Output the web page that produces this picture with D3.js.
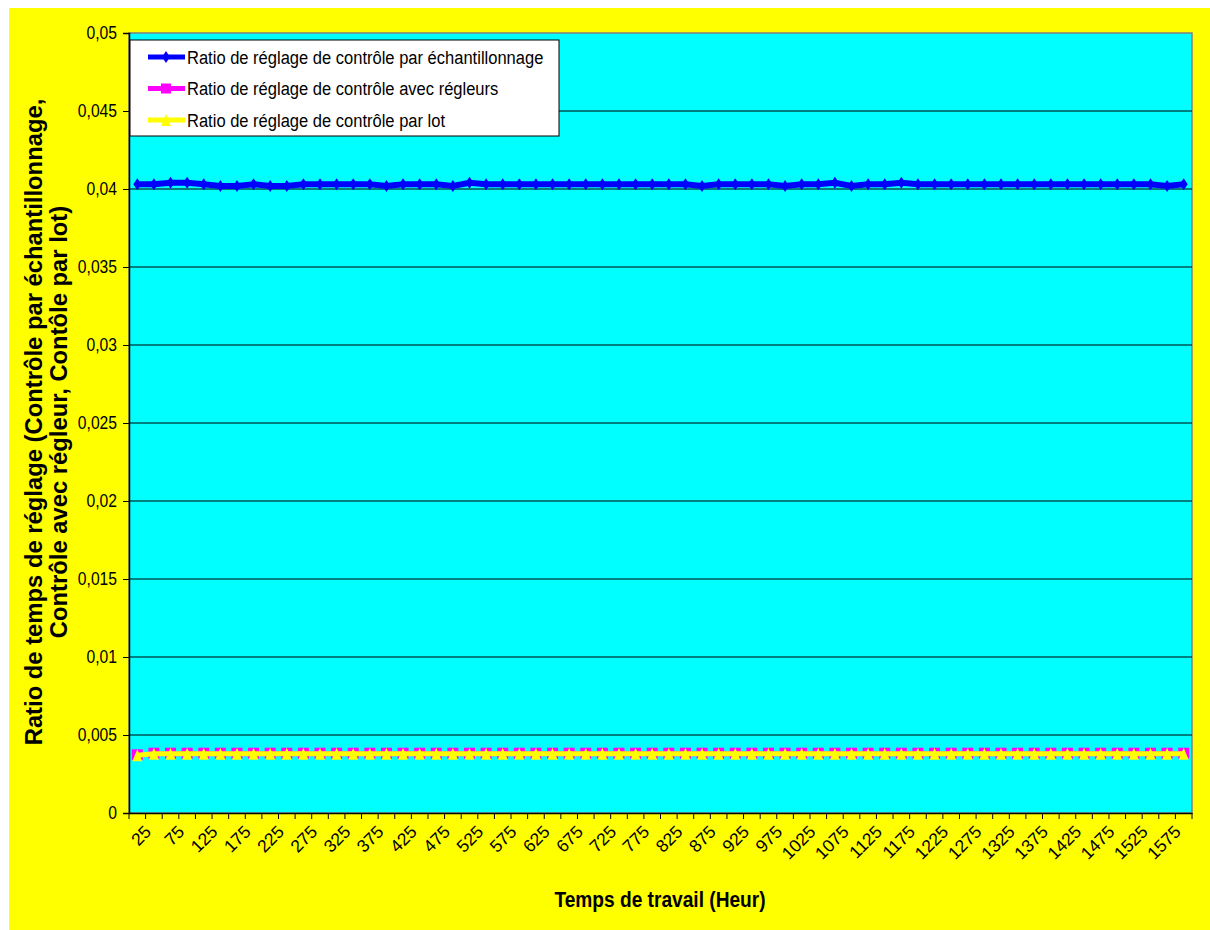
<!DOCTYPE html>
<html>
<head>
<meta charset="utf-8">
<script src="https://cdn.jsdelivr.net/npm/d3@7"></script>
<style>
body{margin:0;background:#fff;}
text{font-family:"Liberation Sans",Arial,sans-serif;}
</style>
</head>
<body>
<svg width="1210" height="930"></svg>
<script>
// heures de travail 25..1600
var hours = [25,50,75,100,125,150,175,200,225,250,275,300,325,350,375,400,
  425,450,475,500,525,550,575,600,625,650,675,700,725,750,775,800,
  825,850,875,900,925,950,975,1000,1025,1050,1075,1100,1125,1150,1175,1200,
  1225,1250,1275,1300,1325,1350,1375,1400,1425,1450,1475,1500,1525,1550,1575,1600];

var echantillonnage = [0.0403,0.0403,0.0404,0.0404,0.0403,0.0402,0.0402,0.0403,0.0402,0.0402,0.0403,0.0403,0.0403,0.0403,0.0403,0.0402,
  0.0403,0.0403,0.0403,0.0402,0.0404,0.0403,0.0403,0.0403,0.0403,0.0403,0.0403,0.0403,0.0403,0.0403,0.0403,0.0403,
  0.0403,0.0403,0.0402,0.0403,0.0403,0.0403,0.0403,0.0402,0.0403,0.0403,0.0404,0.0402,0.0403,0.0403,0.0404,0.0403,
  0.0403,0.0403,0.0403,0.0403,0.0403,0.0403,0.0403,0.0403,0.0403,0.0403,0.0403,0.0403,0.0403,0.0403,0.0402,0.0403];
var regleurs = [0.0037,0.0038,0.0038,0.0038,0.0038,0.0038,0.0038,0.0038,0.0038,0.0038,0.0038,0.0038,0.0038,0.0038,0.0038,0.0038,
  0.0038,0.0038,0.0038,0.0038,0.0038,0.0038,0.0038,0.0038,0.0038,0.0038,0.0038,0.0038,0.0038,0.0038,0.0038,0.0038,
  0.0038,0.0038,0.0038,0.0038,0.0038,0.0038,0.0038,0.0038,0.0038,0.0038,0.0038,0.0038,0.0038,0.0038,0.0038,0.0038,
  0.0038,0.0038,0.0038,0.0038,0.0038,0.0038,0.0038,0.0038,0.0038,0.0038,0.0038,0.0038,0.0038,0.0038,0.0038,0.0038];
var lot = [0.0037,0.0038,0.0038,0.0038,0.0038,0.0038,0.0038,0.0038,0.0038,0.0038,0.0038,0.0038,0.0038,0.0038,0.0038,0.0038,
  0.0038,0.0038,0.0038,0.0038,0.0038,0.0038,0.0038,0.0038,0.0038,0.0038,0.0038,0.0038,0.0038,0.0038,0.0038,0.0038,
  0.0038,0.0038,0.0038,0.0038,0.0038,0.0038,0.0038,0.0038,0.0038,0.0038,0.0038,0.0038,0.0038,0.0038,0.0038,0.0038,
  0.0038,0.0038,0.0038,0.0038,0.0038,0.0038,0.0038,0.0038,0.0038,0.0038,0.0038,0.0038,0.0038,0.0038,0.0038,0.0038];

var yTicks = [0,0.005,0.01,0.015,0.02,0.025,0.03,0.035,0.04,0.045,0.05];
var seriesNames = ["Ratio de réglage de contrôle par échantillonnage",
  "Ratio de réglage de contrôle avec régleurs",
  "Ratio de réglage de contrôle par lot"];

var svg = d3.select("svg");
var plot = {left:129,top:33,right:1192,bottom:813};
var sx = 0.87; // le texte d'origine est un peu étiré en hauteur

svg.append("rect").attr("x",9).attr("y",8).attr("width",1201).attr("height",922).attr("fill","#ffff00");
svg.append("rect").attr("x",plot.left).attr("y",plot.top)
  .attr("width",plot.right-plot.left).attr("height",plot.bottom-plot.top)
  .attr("fill","#00ffff").attr("stroke","#808080").attr("stroke-width",1.5);

var xScale = d3.scaleBand().domain(hours).range([plot.left,plot.right]);
var yScale = d3.scaleLinear().domain([0,0.05]).range([plot.bottom,plot.top]);
var fmt = function(d){return String(+d.toFixed(3)).replace(".",",");};

// grille
svg.append("g").selectAll("line").data(yTicks.slice(1,-1)).enter().append("line")
  .attr("x1",plot.left).attr("x2",plot.right)
  .attr("y1",function(d){return yScale(d);}).attr("y2",function(d){return yScale(d);})
  .attr("stroke","#000").attr("stroke-width",1);

// axe y
var yAxis = svg.append("g").attr("transform","translate("+plot.left+",0)")
  .call(d3.axisLeft(yScale).tickValues(yTicks).tickFormat(fmt).tickSize(6).tickPadding(6));
yAxis.selectAll("text").attr("font-size","18px").attr("fill","#000")
  .attr("x",-12/sx).attr("transform","scale("+sx+",1)")
  .style("font-family","Liberation Sans, Arial");
yAxis.selectAll("line,path").attr("stroke","#000");
yAxis.select("path").attr("stroke-width",1.5);

// axe x
var xAxis = svg.append("g").attr("transform","translate(0,"+plot.bottom+")")
  .call(d3.axisBottom(xScale).tickSize(0).tickFormat(""));
xAxis.select("path").attr("stroke","#000").attr("stroke-width",1.5);
var bounds = hours.map(function(h){return xScale(h);}).concat([plot.right]);
svg.append("g").selectAll("line").data(bounds).enter().append("line")
  .attr("x1",function(d){return d;}).attr("x2",function(d){return d;})
  .attr("y1",plot.bottom).attr("y2",plot.bottom+6).attr("stroke","#000");
svg.append("g").selectAll("text").data(hours.filter(function(h,i){return i%2==0;})).enter().append("text")
  .attr("transform",function(h){
    return "translate("+(xScale(h)+xScale.bandwidth()/2+6)+","+(plot.bottom+11)+") rotate(-45)";})
  .attr("text-anchor","end").attr("dy","0.72em").attr("font-size","17.5px").text(function(h){return h;});

// series
var cx = function(d,i){return xScale(hours[i])+xScale.bandwidth()/2;};
var line = d3.line().x(cx).y(function(d){return yScale(d);});

svg.append("path").attr("d",line(echantillonnage)).attr("fill","none").attr("stroke","#0000ff").attr("stroke-width",6);
svg.append("g").selectAll("path").data(echantillonnage).enter().append("path")
  .attr("d","M0,-6L4,0L0,6L-4,0Z").attr("fill","#0000ff")
  .attr("transform",function(d,i){return "translate("+cx(d,i)+","+yScale(d)+")";});

svg.append("path").attr("d",line(regleurs)).attr("fill","none").attr("stroke","#ff00ff").attr("stroke-width",5);
svg.append("g").selectAll("rect").data(regleurs).enter().append("rect")
  .attr("x",function(d,i){return cx(d,i)-5.5;}).attr("y",function(d){return yScale(d)-6;})
  .attr("width",11).attr("height",11).attr("fill","#ff00ff");

svg.append("path").attr("d",line(lot)).attr("fill","none").attr("stroke","#ffff00").attr("stroke-width",5);
svg.append("g").selectAll("path").data(lot).enter().append("path")
  .attr("d","M0,-6L5,6L-5,6Z").attr("fill","#ffff00")
  .attr("transform",function(d,i){return "translate("+cx(d,i)+","+yScale(d)+")";});

// légende
var legend = svg.append("g");
legend.append("rect").attr("x",130).attr("y",40).attr("width",429).attr("height",96)
  .attr("fill","#fff").attr("stroke","#000").attr("stroke-width",1);
var colors = ["#0000ff","#ff00ff","#ffff00"];
var entries = legend.selectAll("g.entry").data(seriesNames).enter().append("g")
  .attr("transform",function(d,i){return "translate(148,"+(57+i*31.5)+")";});
entries.append("line").attr("x1",0).attr("x2",37).attr("y1",0).attr("y2",0)
  .attr("stroke",function(d,i){return colors[i];}).attr("stroke-width",5);
entries.each(function(d,i){
  var g = d3.select(this);
  if(i==0) g.append("path").attr("d","M18,-6L22,0L18,6L14,0Z").attr("fill",colors[i]);
  if(i==1) g.append("rect").attr("x",13).attr("y",-5).attr("width",10).attr("height",10).attr("fill",colors[i]);
  if(i==2) g.append("path").attr("d","M18,-6L23,6L13,6Z").attr("fill",colors[i]);
});
entries.append("text").attr("transform","translate(39,0) scale("+sx+",1)")
  .attr("dy","0.35em").attr("font-size","19px").text(function(d){return d;});

// titres
svg.append("text").attr("transform","translate(660,907) scale("+sx+",1)").attr("text-anchor","middle")
  .attr("font-size","22px").attr("font-weight","bold").text("Temps de travail (Heur)");
var yt = svg.append("text").attr("transform","translate(0,422) rotate(-90)")
  .attr("text-anchor","middle").attr("font-size","23.8px").attr("font-weight","bold");
yt.append("tspan").attr("x",0).attr("y",42).text("Ratio de temps de réglage (Contrôle par échantillonnage,");
yt.append("tspan").attr("x",0).attr("y",67).text("Contrôle avec régleur, Contôle par lot)");
</script>
</body>
</html>
